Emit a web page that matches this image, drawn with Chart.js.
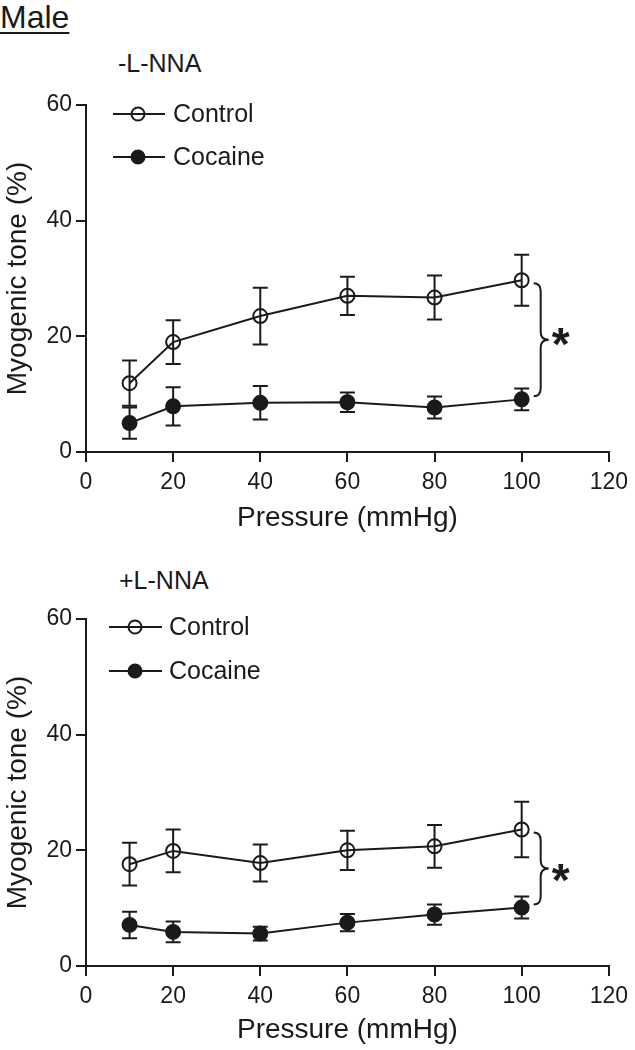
<!DOCTYPE html>
<html>
<head>
<meta charset="utf-8">
<script src="https://cdn.jsdelivr.net/npm/chart.js@4.4.1/dist/chart.umd.min.js"></script>
<style>
  body { margin: 0; background: #fff; width: 635px; height: 1050px; position: relative; overflow: hidden;
         font-family: "Liberation Sans", Arial, sans-serif; color: #1a1a1a; }
  .lbl { position: absolute; white-space: nowrap; }
  #male { left: 0; top: 1px; font-size: 32px; line-height: 32px; text-decoration: underline;
          text-decoration-thickness: 2px; text-underline-offset: 4px; }
  #minus { left: 118px; top: 51px; font-size: 25px; line-height: 25px; }
  #plus { left: 119px; top: 568px; font-size: 25px; line-height: 25px; }
  #c1 { position: absolute; left: 0; top: 0; }
  #c2 { position: absolute; left: 0; top: 540px; }
</style>
</head>
<body>
<div class="lbl" id="male">Male</div>
<div class="lbl" id="minus">-L-NNA</div>
<div class="lbl" id="plus">+L-NNA</div>
<canvas id="c1" width="635" height="540"></canvas>
<canvas id="c2" width="635" height="510"></canvas>
<script>
// data
const pressure = [10, 20, 40, 60, 80, 100]
const xTicks = [0, 20, 40, 60, 80, 100, 120]
const yTicks = [0, 20, 40, 60]
const seriesNames = ['Control', 'Cocaine']

// -L-NNA
const ctrlMinus = [11.9, 19.0, 23.5, 27.0, 26.7, 29.7]
const ctrlMinusErr = [3.9, 3.8, 4.9, 3.3, 3.8, 4.4]
const cocMinus = [5.0, 7.9, 8.5, 8.6, 7.7, 9.1]
const cocMinusErr = [2.7, 3.3, 2.9, 1.7, 1.9, 1.9]

// +L-NNA
const ctrlPlus = [17.6, 19.9, 17.8, 20.0, 20.7, 23.6]
const ctrlPlusErr = [3.7, 3.7, 3.2, 3.4, 3.7, 4.8]
const cocPlus = [7.1, 5.9, 5.6, 7.5, 8.9, 10.1]
const cocPlusErr = [2.3, 1.8, 1.2, 1.5, 1.75, 1.9]

const ink = '#1a1a1a'
const fontFamily = "'Liberation Sans', Arial, sans-serif"
Chart.defaults.font.family = fontFamily
Chart.defaults.color = ink

// error bars, legend inside the plot, and the brace with asterisk
const overlay = {
  id: 'overlay',
  beforeDatasetsDraw(chart) {
    const ctx = chart.ctx
    const xs = chart.scales.x, ys = chart.scales.y
    ctx.save()
    ctx.strokeStyle = ink
    ctx.lineWidth = 2
    chart.data.datasets.forEach(ds => {
      ds.err.forEach((e, i) => {
        const x = xs.getPixelForValue(pressure[i])
        const yHi = ys.getPixelForValue(ds.values[i] + e)
        const yLo = ys.getPixelForValue(ds.values[i] - e)
        ctx.beginPath()
        ctx.moveTo(x, yHi); ctx.lineTo(x, yLo)
        ctx.moveTo(x - 7.5, yHi); ctx.lineTo(x + 7.5, yHi)
        ctx.moveTo(x - 7.5, yLo); ctx.lineTo(x + 7.5, yLo)
        ctx.stroke()
      })
    })
    ctx.restore()
  },
  afterDraw(chart, args, opts) {
    const ctx = chart.ctx
    const xs = chart.scales.x, ys = chart.scales.y
    const top = chart.chartArea.top
    ctx.save()
    ctx.strokeStyle = ink
    ctx.lineWidth = 2

    // legend
    const lg = opts.legend
    chart.data.datasets.forEach((ds, k) => {
      const y = top + lg.rows[k]
      ctx.beginPath()
      ctx.moveTo(lg.x0, y); ctx.lineTo(lg.x1, y)
      ctx.stroke()
      ctx.beginPath()
      ctx.arc(lg.cx, y, 6.5, 0, Math.PI * 2)
      if (ds.backgroundColor !== 'transparent') {
        ctx.fillStyle = ds.backgroundColor
        ctx.fill()
      }
      ctx.stroke()
      ctx.fillStyle = ink
      ctx.font = '25px ' + fontFamily
      ctx.textBaseline = 'middle'
      ctx.textAlign = 'left'
      ctx.fillText(ds.label, lg.tx, y + 1)
    })

    // brace between the last points of the two series
    const last = pressure.length - 1
    const xb = xs.getPixelForValue(pressure[last]) + 12
    const yTop = ys.getPixelForValue(chart.data.datasets[0].values[last]) + 3
    const yBot = ys.getPixelForValue(chart.data.datasets[1].values[last]) - 3
    const yMid = (yTop + yBot) / 2
    const stem = xb + 7, tip = xb + 15, r = 8
    ctx.beginPath()
    ctx.moveTo(xb, yTop)
    ctx.quadraticCurveTo(stem, yTop, stem, yTop + r)
    ctx.lineTo(stem, yMid - r)
    ctx.quadraticCurveTo(stem, yMid, tip, yMid)
    ctx.quadraticCurveTo(stem, yMid, stem, yMid + r)
    ctx.lineTo(stem, yBot - r)
    ctx.quadraticCurveTo(stem, yBot, xb, yBot)
    ctx.stroke()
    ctx.font = 'bold 46px ' + fontFamily
    ctx.textBaseline = 'alphabetic'
    ctx.textAlign = 'center'
    ctx.fillStyle = ink
    ctx.fillText('*', tip + 12, yMid + 23 + opts.starShift)
    ctx.restore()
  }
}

function makeChart(id, ctrl, ctrlErr, coc, cocErr, lay) {
  const H = document.getElementById(id).height
  return new Chart(document.getElementById(id), {
    type: 'scatter',
    data: {
      datasets: [
        {
          label: seriesNames[0],
          values: ctrl, err: ctrlErr,
          data: pressure.map((p, i) => ({ x: p, y: ctrl[i] })),
          showLine: true,
          borderColor: ink, borderWidth: 2,
          backgroundColor: 'transparent',
          pointBorderColor: ink, pointBackgroundColor: 'transparent',
          pointRadius: 7, pointBorderWidth: 2, pointHoverRadius: 7
        },
        {
          label: seriesNames[1],
          values: coc, err: cocErr,
          data: pressure.map((p, i) => ({ x: p, y: coc[i] })),
          showLine: true,
          borderColor: ink, borderWidth: 2,
          backgroundColor: ink,
          pointBorderColor: ink, pointBackgroundColor: ink,
          pointRadius: 7, pointBorderWidth: 2, pointHoverRadius: 7
        }
      ]
    },
    options: {
      responsive: false,
      animation: false,
      events: [],
      layout: { padding: { top: lay.top, left: 0, right: 22, bottom: 0 } },
      plugins: {
        legend: { display: false },
        tooltip: { enabled: false },
        overlay: { legend: lay.legend, starShift: lay.starShift }
      },
      scales: {
        x: {
          type: 'linear', min: 0, max: 120,
          afterBuildTicks: s => { s.ticks = xTicks.map(v => ({ value: v })) },
          afterFit: s => { s.height = H - lay.bottom },
          grid: { drawOnChartArea: false, drawTicks: true, tickLength: 10, color: ink, lineWidth: 2 },
          border: { display: true, color: ink, width: 2 },
          ticks: { font: { size: 23 }, color: ink, padding: 7, maxRotation: 0 },
          title: { display: true, text: 'Pressure (mmHg)', color: ink,
                   font: { size: 28, lineHeight: 1 }, padding: { top: 0, bottom: lay.titlePad } }
        },
        y: {
          type: 'linear', min: 0, max: 60,
          afterBuildTicks: s => { s.ticks = yTicks.map(v => ({ value: v })) },
          afterFit: s => { s.width = 86 },
          grid: { drawOnChartArea: false, drawTicks: true, tickLength: 10, color: ink, lineWidth: 2 },
          border: { display: true, color: ink, width: 2 },
          ticks: { font: { size: 23 }, color: ink, padding: 4 },
          title: { display: true, text: 'Myogenic tone (%)', color: ink,
                   font: { size: 28, lineHeight: 1 }, padding: { top: 4, bottom: 0 } }
        }
      }
    },
    plugins: [overlay]
  })
}

makeChart('c1', ctrlMinus, ctrlMinusErr, cocMinus, cocMinusErr, {
  top: 105, bottom: 452, titlePad: 8, starShift: -3,
  legend: { x0: 113, x1: 165, cx: 138, tx: 173, rows: [9, 52] }
})
makeChart('c2', ctrlPlus, ctrlPlusErr, cocPlus, cocPlusErr, {
  top: 79, bottom: 426, titlePad: 6, starShift: 4,
  legend: { x0: 109, x1: 162, cx: 135, tx: 169, rows: [8, 52] }
})
</script>
</body>
</html>
